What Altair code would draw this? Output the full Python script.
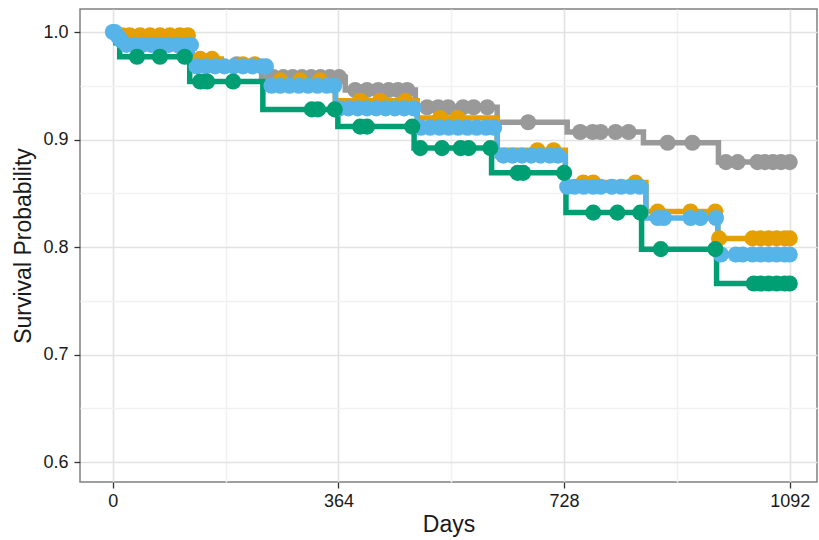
import altair as alt
import pandas as pd

# Kaplan-Meier step curves: event times (days) and survival after each step
grey_times = [0, 20, 60, 124, 240, 375, 488, 620, 733, 856, 977]
grey_surv = [1.0, 0.993, 0.986, 0.970, 0.958, 0.946, 0.930, 0.916, 0.907, 0.897, 0.879]
grey_cens = [30, 75, 110, 150, 200, 259, 275, 290, 305, 320, 335, 350, 365,
             391, 410, 428, 445, 460, 475, 507, 525, 541, 565, 582, 604, 670,
             754, 774, 787, 811, 832, 895, 935, 989, 1008, 1040, 1052, 1065,
             1078, 1092]

orange_times = [0, 8, 128, 175, 249, 359, 491, 620, 730, 860, 976]
orange_surv = [1.0, 0.997, 0.975, 0.970, 0.955, 0.936, 0.920, 0.890, 0.860, 0.833, 0.808]
orange_cens = [15, 27, 44, 60, 76, 92, 108, 121, 141, 160, 210, 229, 270, 302,
               334, 399, 431, 472, 528, 556, 685, 711, 759, 775, 843, 879, 932,
               972, 978, 1032, 1045, 1058, 1071, 1084, 1092]

blue_times = [0, 4, 9, 15, 128, 249, 359, 491, 620, 730, 860, 976]
blue_surv = [1.0, 0.996, 0.992, 0.988, 0.968, 0.950, 0.929, 0.911, 0.885, 0.856, 0.827, 0.793]
blue_cens = [0, 3, 8, 14, 22, 35, 48, 62, 76, 90, 104, 118, 126, 135, 150, 165,
             180, 195, 210, 225, 240, 247, 256, 270, 285, 300, 315, 330, 345,
             357, 366, 380, 395, 410, 425, 440, 455, 470, 485, 497, 512, 527,
             542, 557, 572, 587, 602, 615, 630, 645, 660, 675, 690, 705, 718,
             733, 745, 760, 775, 787, 805, 820, 835, 850, 879, 889, 932, 948,
             973, 981, 1005, 1016, 1032, 1045, 1058, 1071, 1084, 1092]

green_times = [0, 5, 11, 124, 242, 363, 486, 611, 731, 853, 974]
green_surv = [1.0, 0.990, 0.977, 0.954, 0.928, 0.912, 0.892, 0.869, 0.832, 0.798, 0.766]
green_cens = [39, 76, 116, 141, 152, 194, 321, 331, 358, 399, 410, 483, 496,
              531, 561, 574, 609, 653, 662, 728, 775, 814, 851, 884, 972, 1034,
              1045, 1058, 1071, 1084, 1092]

groups = ["Group A", "Group B", "Group C", "Group D"]
colors = ["#999999", "#E69F00", "#56B4E9", "#009E73"]

x_ticks = [0, 182, 364, 546, 728, 910, 1092]
y_ticks = [0.6, 0.65, 0.7, 0.75, 0.8, 0.85, 0.9, 0.95, 1.0]

series = [
    (groups[0], grey_times, grey_surv, grey_cens),
    (groups[1], orange_times, orange_surv, orange_cens),
    (groups[2], blue_times, blue_surv, blue_cens),
    (groups[3], green_times, green_surv, green_cens),
]


def surv_at(times, surv, t):
    value = surv[0]
    for tt, s in zip(times, surv):
        if tt <= t:
            value = s
    return value


line_rows, point_rows = [], []
for name, times, surv, cens in series:
    for t, s in zip(times, surv):
        line_rows.append({"group": name, "day": t, "surv": s})
    line_rows.append({"group": name, "day": max(cens), "surv": surv[-1]})
    for c in cens:
        point_rows.append({"group": name, "day": c, "surv": surv_at(times, surv, c)})

lines_df = pd.DataFrame(line_rows)
points_df = pd.DataFrame(point_rows)

FONT = "Liberation Sans"
TEXT = "#1a1a1a"

x_enc = alt.X(
    "day:Q",
    scale=alt.Scale(domain=[-53, 1136], nice=False, zero=False),
    axis=alt.Axis(
        values=x_ticks,
        title="Days",
        labelExpr="datum.value % 364 === 0 ? format(datum.value, 'd') : ''",
        gridColor=alt.condition("datum.value % 364 === 0",
                                alt.value("#e2e2e2"), alt.value("#f1f1f1")),
        tickOpacity=alt.condition("datum.value % 364 === 0",
                                  alt.value(1), alt.value(0)),
        gridWidth=1.6,
        domain=False,
        tickColor="#333333",
        tickSize=6,
        tickWidth=1.3,
        labelPadding=4,
        labelFont=FONT,
        labelFontSize=18,
        labelColor=TEXT,
        titleFont=FONT,
        titleFontSize=23,
        titleFontWeight="normal",
        titleColor=TEXT,
        titlePadding=3,
    ),
)

major_y = "abs(datum.value * 10 - round(datum.value * 10)) < 0.001"
y_enc = alt.Y(
    "surv:Q",
    scale=alt.Scale(domain=[0.5814, 1.0214], nice=False, zero=False),
    axis=alt.Axis(
        values=y_ticks,
        title="Survival Probability",
        labelExpr=f"{major_y} ? format(datum.value, '.1f') : ''",
        gridColor=alt.condition(major_y, alt.value("#e2e2e2"), alt.value("#f1f1f1")),
        tickOpacity=alt.condition(major_y, alt.value(1), alt.value(0)),
        gridWidth=1.6,
        domain=False,
        tickColor="#333333",
        tickSize=6,
        tickWidth=1.3,
        labelPadding=6,
        labelFont=FONT,
        labelFontSize=18,
        labelColor=TEXT,
        titleFont=FONT,
        titleFontSize=23,
        titleFontWeight="normal",
        titleColor=TEXT,
        titlePadding=7,
    ),
)

color_enc = alt.Color("group:N", scale=alt.Scale(domain=groups, range=colors), legend=None)

steps = alt.Chart(lines_df).mark_line(interpolate="step-after", strokeWidth=5.5).encode(
    x=x_enc, y=y_enc, color=color_enc
)

censored = alt.Chart(points_df).mark_circle(size=260, opacity=1).encode(
    x=x_enc, y=y_enc, color=color_enc
)

chart = (
    alt.layer(steps, censored)
    .properties(
        width=737,
        height=473,
        autosize="none",
        padding={"left": 80, "top": 9, "right": 2, "bottom": 58},
        background="white",
    )
    .configure_view(stroke="#808080", strokeWidth=1.5)
)

chart.save("out.html", embed_options={"renderer": "svg", "actions": False})
